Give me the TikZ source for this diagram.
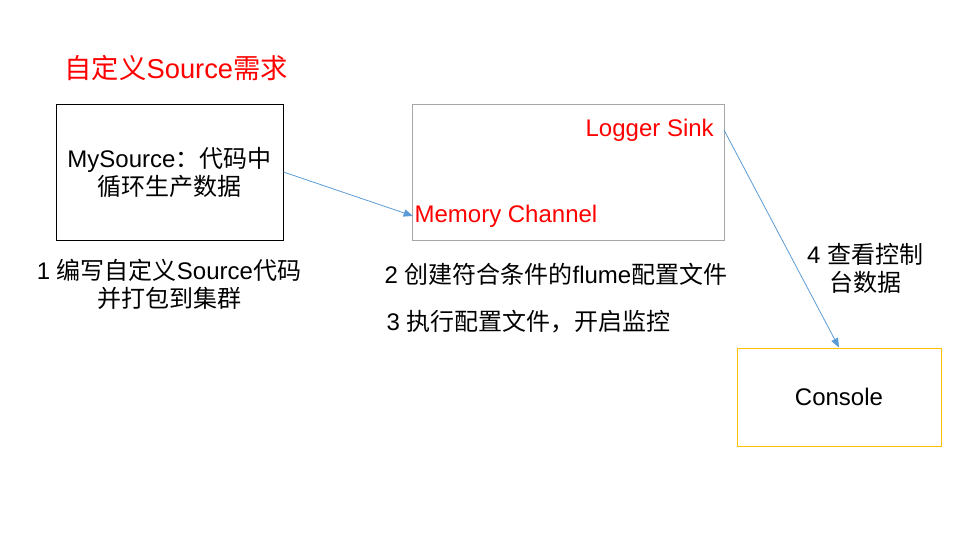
\documentclass[tikz,border=0pt]{standalone}
\usepackage{fontspec}
\setmainfont{Liberation Sans}
\newfontfamily\cjkf{Noto Sans CJK SC}
\newcommand{\zh}[1]{{\cjkf #1}}
\usetikzlibrary{arrows.meta}
\definecolor{arrowblue}{HTML}{5B9BD5}
\definecolor{boxgray}{HTML}{A6A6A6}
\definecolor{consolegold}{HTML}{FFC000}
\definecolor{titlered}{HTML}{FF0000}
\tikzset{
  lbl/.style={inner sep=1pt, font=\fontsize{18}{21}\selectfont, align=center},
  redlbl/.style={lbl, text=titlered},
  flow/.style={draw=arrowblue, line width=0.6pt, -{Triangle[length=7pt,width=5.5pt]}},
}
\begin{document}
\begin{tikzpicture}[x=0.75pt,y=-0.75pt]
\useasboundingbox (0,0) rectangle (960,540);
% title
\node[redlbl, anchor=west, font=\fontsize{20.5}{24}\selectfont] (title) at (63,68) {\zh{自定义}Source\zh{需求}};
% boxes
\node[draw=black, line width=0.75pt, minimum width=227*0.75pt, minimum height=136*0.75pt, inner sep=0pt] (src) at (169.5,172) {};
\node[lbl] (srctxt) at (169.5,172) {MySource\zh{：代码中}\\\zh{循环生产数据}};
\node[draw=boxgray, line width=0.6pt, minimum width=312*0.75pt, minimum height=136*0.75pt, inner sep=0pt] (agent) at (568,172) {};
\node[draw=consolegold, line width=0.75pt, minimum width=204*0.75pt, minimum height=98*0.75pt, inner sep=0pt] (console) at (839,397) {};
\node[lbl] (contxt) at (839,397) {Console};
% red labels inside agent
\node[redlbl, anchor=east, inner xsep=7.5pt] (sink) at (724,130) {Logger Sink};
\node[redlbl, anchor=west] (chan) at (413,216) {Memory Channel};
% step labels
\node[lbl] (step1) at (169,284) {1 \zh{编写自定义}Source\zh{代码}\\\zh{并打包到集群}};
\node[lbl, anchor=west] (step2) at (383,274) {2 \zh{创建符合条件的}flume\zh{配置文件}};
\node[lbl, anchor=west] (step3) at (385,322) {3 \zh{执行配置文件，开启监控}};
\node[lbl] (step4) at (865,268) {4 \zh{查看控制}\\\zh{台数据}};
% connectors
\draw[flow] (src.east) -- (chan.west);
\draw[flow] (sink.east) -- (console.north);
\end{tikzpicture}
\end{document}
